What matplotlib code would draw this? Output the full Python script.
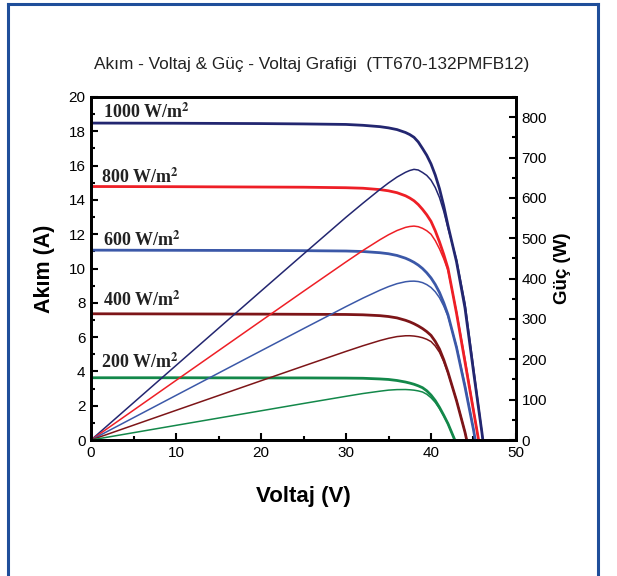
#!/usr/bin/env python3
"""I-V and P-V curves of the TT670-132PMFB12 module at five irradiance levels."""

import matplotlib.pyplot as plt
from matplotlib.lines import Line2D
from matplotlib.ticker import MultipleLocator

irradiance = ["1000", "800", "600", "400", "200"]
colors = ["#232670", "#ee1f26", "#3b58a8", "#7d1518", "#13884a"]

v_1000 = [0, 10, 20, 25, 30, 32, 34, 35, 36, 37, 37.5, 38, 38.5, 39, 39.5, 40, 40.5, 41, 41.5,
          42, 43, 44, 45, 46, 46.1]
i_1000 = [18.48, 18.47, 18.45, 18.43, 18.40, 18.35, 18.27, 18.20, 18.10, 17.93, 17.81, 17.65,
          17.38, 17.0, 16.6, 16.1, 15.45, 14.65, 13.65, 12.5, 10.4, 7.7, 4.0, 0.4, 0]
p_1000 = [0, 184.7, 369, 460.8, 552, 587, 621, 637, 651.6, 663.4, 667.9, 670.7, 669.1, 663,
          655.7, 644, 625.7, 600.7, 566.5, 525, 447.2, 338.8, 180, 18.4, 0]

v_800 = [0, 10, 20, 25, 30, 32, 34, 35, 36, 37, 37.5, 38, 38.5, 39, 39.5, 40, 40.5, 41, 41.5,
         42, 43, 44, 45, 45.6]
i_800 = [14.78, 14.77, 14.75, 14.74, 14.71, 14.68, 14.60, 14.53, 14.42, 14.24, 14.11, 13.95,
         13.73, 13.45, 13.13, 12.75, 12.2, 11.55, 10.82, 10.0, 7.4, 4.55, 1.7, 0]
p_800 = [0, 147.7, 295, 368.5, 441.3, 469.8, 496.4, 508.6, 519.1, 526.9, 529.1, 530.1, 528.6,
         524.6, 518.6, 510, 494.1, 473.6, 449.0, 420, 318.2, 200.2, 76.5, 0]

v_600 = [0, 10, 20, 25, 30, 32, 34, 35, 36, 37, 37.5, 38, 38.5, 39, 39.5, 40, 40.5, 41, 41.5,
         42, 43, 44, 45, 45.2]
i_600 = [11.07, 11.06, 11.05, 11.04, 11.02, 10.99, 10.92, 10.86, 10.76, 10.60, 10.49, 10.36,
         10.2, 10.0, 9.75, 9.45, 9.07, 8.6, 8.0, 7.3, 5.4, 3.1, 0.6, 0]
p_600 = [0, 110.6, 221, 276, 330.6, 351.7, 371.3, 380.1, 387.4, 392.2, 393.4, 393.7, 392.7,
         390, 385.1, 378, 367.3, 352.6, 332, 306.6, 232.2, 136.4, 27, 0]

v_400 = [0, 10, 20, 25, 30, 32, 34, 35, 36, 37, 37.5, 38, 38.5, 39, 39.5, 40, 40.5, 41, 41.5,
         42, 43, 44, 44.2]
i_400 = [7.36, 7.35, 7.34, 7.33, 7.32, 7.30, 7.25, 7.20, 7.12, 6.98, 6.89, 6.78, 6.65, 6.50,
         6.32, 6.10, 5.75, 5.3, 4.68, 3.95, 2.3, 0.45, 0]
p_400 = [0, 73.5, 146.8, 183.3, 219.6, 233.6, 246.5, 252, 256.3, 258.3, 258.4, 257.6, 256,
         253.5, 249.6, 244, 232.9, 217.3, 194.2, 165.9, 98.9, 19.8, 0]

v_200 = [0, 10, 20, 25, 30, 32, 34, 35, 36, 37, 37.5, 38, 38.5, 39, 39.5, 40, 40.5, 41, 41.5,
         42, 42.8]
i_200 = [3.63, 3.63, 3.62, 3.62, 3.61, 3.60, 3.56, 3.53, 3.47, 3.38, 3.32, 3.25, 3.16, 3.05,
         2.87, 2.62, 2.3, 1.9, 1.44, 0.95, 0]
p_200 = [0, 36.3, 72.4, 90.5, 108.3, 115.2, 121, 123.6, 124.9, 125.1, 124.5, 123.5, 121.7,
         119, 113.4, 104.8, 93.2, 77.9, 59.8, 39.9, 0]

voltages = [v_1000, v_800, v_600, v_400, v_200]
currents = [i_1000, i_800, i_600, i_400, i_200]
powers = [p_1000, p_800, p_600, p_400, p_200]

# label anchors (V, A) for the irradiance texts
label_pos = [(1.4, 19.1), (1.2, 15.3), (1.4, 11.65), (1.4, 8.15), (1.2, 4.55)]

plt.rcParams["font.family"] = ["Liberation Sans", "DejaVu Sans"]

fig = plt.figure(figsize=(6.17, 5.76), dpi=100)
ax = fig.add_axes([0.1475, 0.2361, 0.6888, 0.5955])
ax2 = ax.twinx()

for v, i, p, c in zip(voltages, currents, powers, colors):
    ax.plot(v, i, color=c, linewidth=2.0, solid_capstyle="butt")
    ax2.plot(v, p, color=c, linewidth=1.1)

for (x, y), name in zip(label_pos, irradiance):
    ax.text(x, y, f"{name} W/m$^\\mathbf{{2}}$", fontsize=13, fontweight="bold",
            family="Liberation Serif", va="center", ha="left", color="#222222",
            math_fontfamily="stix")

ax.set_xlim(0, 50)
ax.set_ylim(0, 20)
ax2.set_ylim(0, 850)

ax.xaxis.set_major_locator(MultipleLocator(10))
ax.xaxis.set_minor_locator(MultipleLocator(5))
ax.yaxis.set_major_locator(MultipleLocator(2))
ax.yaxis.set_minor_locator(MultipleLocator(1))
ax2.yaxis.set_major_locator(MultipleLocator(100))
ax2.yaxis.set_minor_locator(MultipleLocator(50))

for a in (ax, ax2):
    for s in a.spines.values():
        s.set_linewidth(2)
    a.tick_params(which="both", direction="in", width=1.5, labelsize=11, pad=4)
    a.tick_params(which="major", length=5)
    a.tick_params(which="minor", length=3)
ax.tick_params(axis="y", which="both", right=False)
ax.tick_params(axis="x", which="both", top=False)

ax.set_xlabel("Voltaj (V)", fontsize=16, fontweight="bold", labelpad=19)
ax.set_ylabel("Akım (A)", fontsize=15.5, fontweight="bold", labelpad=10)
ax2.set_ylabel("Güç (W)", fontsize=13.5, fontweight="bold", labelpad=5)

fig.text(0.505, 0.888, "Akım - Voltaj & Güç - Voltaj Grafiği  (TT670-132PMFB12)",
         ha="center", va="center", fontsize=12.4, color="#222222")

# blue page frame
frame = "#1f4e9a"
fig.add_artist(Line2D([8 / 617, 598 / 617], [1 - 4 / 576, 1 - 4 / 576],
                      color=frame, linewidth=2.2, transform=fig.transFigure))
fig.add_artist(Line2D([8 / 617, 8 / 617], [0, 1 - 4 / 576],
                      color=frame, linewidth=2.2, transform=fig.transFigure))
fig.add_artist(Line2D([598 / 617, 598 / 617], [0, 1 - 4 / 576],
                      color=frame, linewidth=2.2, transform=fig.transFigure))

fig.savefig("out.png", dpi=100)
plt.close(fig)
